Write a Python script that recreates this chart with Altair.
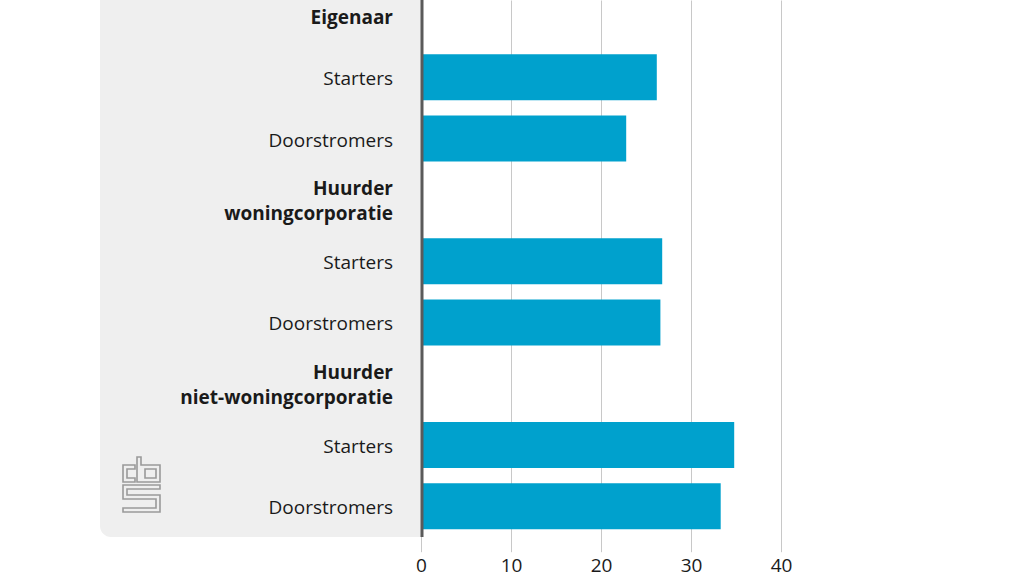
import altair as alt
import pandas as pd

# ---- data ----
labels = ["Eigenaar", "Starters", "Doorstromers",
          "Huurder\nwoningcorporatie", "Starters", "Doorstromers",
          "Huurder\nniet-woningcorporatie", "Starters", "Doorstromers"]
values = [None, 26.2, 22.8, None, 26.8, 26.6, None, 34.8, 33.3]
is_heading = [True, False, False, True, False, False, True, False, False]
x_ticks = [0, 10, 20, 30, 40]

df = pd.DataFrame({
    "row": list(range(len(labels))),
    "label": labels,
    "value": values,
    "heading": is_heading,
    "multi": ["\n" in s for s in labels],
})

FONT = "Open Sans"
TXT = "#1a1a1a"
BLUE = "#00a1cd"

yscale = alt.Scale(type="band", domain=list(range(len(labels))),
                   range=[-14.7, 537], paddingInner=0.25, paddingOuter=0.125)
ybase = alt.Y("row:O", scale=yscale, axis=None)

one = pd.DataFrame({"a": [0]})

# grey panel behind the labels
panel = alt.Chart(one).mark_rect(color="#efefef", cornerRadiusBottomLeft=11).encode(
    x=alt.value(-321), x2=alt.value(0), y=alt.value(-30), y2=alt.value(537)
)

# cbs logo (decorative outline)
polys = [
    [(12, 8), (0, 8), (0, 25), (12, 25), (12, 21), (4, 21), (4, 12), (12, 12)],
    [(14, 0), (18, 0), (18, 8), (37, 8), (37, 25), (14, 25)],
    [(22, 12), (33, 12), (33, 21), (22, 21)],
    [(37, 28), (0, 28), (0, 42), (33, 42), (33, 51), (0, 51), (0, 55), (37, 55),
     (37, 38), (4, 38), (4, 32), (37, 32)],
]
parts = []
for poly in polys:
    pts = [f"{(px - 18.5) / 27.5:.4f},{(py - 27.5) / 27.5:.4f}" for px, py in poly]
    parts.append("M" + " L".join(pts) + " Z")
logo_path = " ".join(parts)
logo = alt.Chart(one).mark_point(shape=logo_path, filled=False, size=3025,
                                 stroke="#9a9a9a", strokeWidth=1.6, opacity=1).encode(
    x=alt.value(-279.5), y=alt.value(484.5)
)

bars = alt.Chart(df).transform_filter("isValid(datum.value)").mark_bar(color=BLUE).encode(
    x=alt.X("value:Q", scale=alt.Scale(domain=[0, 40], nice=False),
            axis=alt.Axis(values=x_ticks, title=None, ticks=False, domain=False,
                          grid=True, gridColor="#c8c8c8", gridWidth=1,
                          labelFont=FONT, labelFontSize=19, labelColor=TXT,
                          labelPadding=19, labelAngle=0, labelFlush=False)),
    y=ybase,
)

text_norm = alt.Chart(df).transform_filter("!datum.heading").mark_text(
    align="right", baseline="middle", font=FONT, fontSize=19, color=TXT, dy=2
).encode(x=alt.value(-28), y=ybase, text="label:N")

text_bold1 = alt.Chart(df).transform_filter("datum.heading && !datum.multi").mark_text(
    align="right", baseline="middle", font=FONT, fontSize=19, fontWeight="bold",
    color=TXT, dy=2
).encode(x=alt.value(-28), y=ybase, text="label:N")

text_bold2 = alt.Chart(df).transform_filter("datum.heading && datum.multi").mark_text(
    align="right", baseline="middle", font=FONT, fontSize=19, fontWeight="bold",
    color=TXT, lineBreak="\n", lineHeight=25, dy=-11
).encode(x=alt.value(-28), y=ybase, text="label:N")

zero = alt.Chart(one).mark_rule(color="#5a5a5a", strokeWidth=3).encode(
    x=alt.value(1), y=alt.value(-30), y2=alt.value(537)
)

chart = alt.layer(panel, logo, bars, text_norm, text_bold1, text_bold2, zero).properties(
    width=360, height=537,
    padding={"left": 421, "top": 0, "right": 243, "bottom": 39},
    autosize=alt.AutoSizeParams(type="none"),
    background="white",
).configure_view(stroke=None)

chart.save("out.html", embed_options={"renderer": "svg", "actions": False})
